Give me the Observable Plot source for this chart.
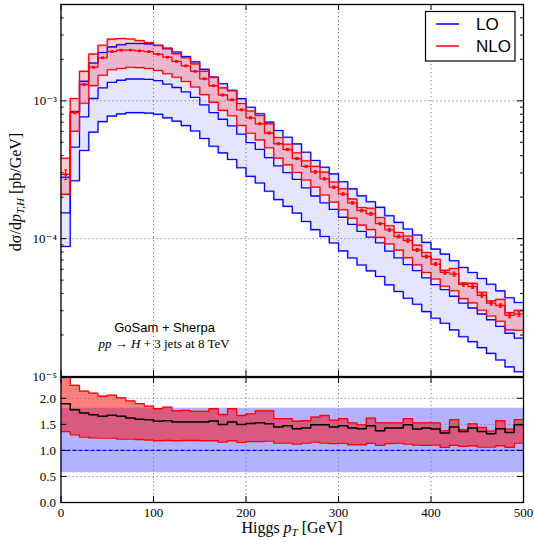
<!DOCTYPE html>
<html><head><meta charset="utf-8">
<script src="https://cdn.jsdelivr.net/npm/d3@7"></script>
<script src="https://cdn.jsdelivr.net/npm/@observablehq/plot@0.6"></script>
<style>
body{margin:0;background:#fff;}
#wrap{position:relative;width:534px;height:544px;background:#fff;}
#wrap svg{position:absolute;left:0;overflow:visible;}
</style></head><body><div id="wrap"></div>
<script>
// ---- data ----
const binLow = [0,10,20,30,40,50,60,70,80,90,100,110,120,130,140,150,160,170,180,190,
  200,210,220,230,240,250,260,270,280,290,300,310,320,330,340,350,360,370,380,390,
  400,410,420,430,440,450,460,470,480,490];
const binWidth = 10;
// LO central value, pb/GeV
const lo = [1.54e-4,4.62e-4,7.65e-4,1.04e-3,1.24e-3,1.36e-3,1.41e-3,1.44e-3,1.44e-3,1.43e-3,
  1.40e-3,1.32e-3,1.25e-3,1.16e-3,1.06e-3,9.35e-4,8.22e-4,7.35e-4,6.58e-4,5.73e-4,
  4.97e-4,4.45e-4,3.87e-4,3.37e-4,3.01e-4,2.69e-4,2.34e-4,2.04e-4,1.82e-4,1.63e-4,
  1.43e-4,1.27e-4,1.13e-4,1.025e-4,9.32e-5,8.11e-5,7.25e-5,6.49e-5,5.87e-5,5.19e-5,
  4.64e-5,4.27e-5,3.82e-5,3.41e-5,3.14e-5,2.84e-5,2.58e-5,2.31e-5,2.06e-5,1.90e-5];
// LO scale-variation band relative to LO central
const loScale = [0.57, 1.81];
// NLO / LO ratio (central, band low, band high)
const ratio = [1.898,1.782,1.718,1.686,1.654,1.673,1.654,1.622,1.60,1.59,
  1.558,1.571,1.545,1.545,1.545,1.545,1.565,1.50,1.545,1.50,
  1.515,1.53,1.51,1.449,1.474,1.417,1.43,1.494,1.494,1.449,
  1.474,1.43,1.417,1.474,1.378,1.43,1.43,1.494,1.41,1.43,
  1.41,1.333,1.449,1.365,1.43,1.365,1.32,1.417,1.346,1.494];
const ratioLow = [1.36,1.30,1.256,1.24,1.237,1.237,1.218,1.218,1.21,1.20,
  1.186,1.19,1.186,1.19,1.19,1.186,1.186,1.16,1.186,1.155,
  1.17,1.17,1.18,1.14,1.14,1.122,1.14,1.16,1.14,1.13,
  1.135,1.109,1.109,1.135,1.096,1.13,1.14,1.122,1.10,1.096,
  1.10,1.058,1.096,1.077,1.09,1.064,1.064,1.09,1.058,1.141];
const ratioHigh = [2.49,2.25,2.14,2.10,2.04,2.06,2.01,1.95,1.90,1.85,
  1.80,1.83,1.76,1.77,1.75,1.75,1.80,1.69,1.80,1.67,
  1.70,1.76,1.76,1.61,1.61,1.56,1.57,1.64,1.67,1.58,
  1.61,1.53,1.49,1.62,1.53,1.53,1.53,1.61,1.53,1.53,
  1.53,1.38,1.59,1.40,1.51,1.44,1.37,1.57,1.41,1.59];
// NLO statistical error, relative
const nloErr = [0.08,0.02,0.012,0.01,0.008,0.008,0.008,0.008,0.008,0.008,
  0.01,0.01,0.01,0.01,0.01,0.012,0.012,0.012,0.012,0.012,
  0.015,0.015,0.015,0.015,0.018,0.018,0.015,0.02,0.018,0.02,
  0.02,0.02,0.022,0.022,0.02,0.025,0.022,0.03,0.025,0.025,
  0.025,0.03,0.035,0.028,0.03,0.03,0.032,0.03,0.04,0.04];
const xTicks = [0,100,200,300,400,500];
const xGrid = [100,200,300,400];
const yMajor = [1e-5,1e-4,1e-3];
const yMinor = [2e-5,3e-5,4e-5,5e-5,6e-5,7e-5,8e-5,9e-5,2e-4,3e-4,4e-4,5e-4,6e-4,7e-4,8e-4,9e-4,2e-3,3e-3,4e-3];
const rTicks = [0,0.5,1.0,1.5,2.0];
const rGrid = [0.5,1.0,1.5,2.0];
const seriesNames = ["LO","NLO"];
const seriesColors = ["#0000ff","#ff0000"];

// ---- derived tables ----
const bins = binLow.map((x0,i)=>({
  x0, x1:x0+binWidth, xc:x0+binWidth/2,
  lo:lo[i], loLow:lo[i]*loScale[0], loHigh:lo[i]*loScale[1],
  nlo:lo[i]*ratio[i], nloLow:lo[i]*ratioLow[i], nloHigh:lo[i]*ratioHigh[i],
  err:nloErr[i], r:ratio[i], rl:ratioLow[i], rh:ratioHigh[i],
  bl:loScale[0], bh:loScale[1]
}));
const steps = bins.flatMap(b=>[{...b,x:b.x0},{...b,x:b.x1}]);

const W=534, ML=60.5, MR=11;
const plotW = W-ML-MR;
const mainH=377, mainTop=4, mainBot=1, mainPH = mainH-mainTop-mainBot;
const ratH=168, ratTop=1, ratBot=42, ratPH = ratH-ratTop-ratBot;
const gridStyle = {stroke:"#7a7a7a", strokeDasharray:"1.2,2.8", strokeWidth:1};
const supMap = {"-":"\u207B","0":"\u2070","1":"\u00B9","2":"\u00B2","3":"\u00B3","4":"\u2074","5":"\u2075","6":"\u2076","7":"\u2077","8":"\u2078","9":"\u2079"};
const fmtPow = d => "10" + String(Math.round(Math.log10(d))).split("").map(c=>supMap[c]).join("");
const serif = "'Liberation Serif', 'DejaVu Serif', serif";
const sans = "'Liberation Sans', Arial, sans-serif";

function edge(key, color){
  return [
    Plot.line(steps,{x:"x",y:key,stroke:color,strokeWidth:2,strokeOpacity:0.3}),
    Plot.line(steps,{x:"x",y:key,stroke:color,strokeWidth:1.1})
  ];
}

const main = Plot.plot({
  width:W, height:mainH, marginTop:mainTop, marginBottom:mainBot, marginLeft:ML, marginRight:MR,
  style:{background:"transparent", fontFamily:serif, fontSize:"13px", color:"#000", overflow:"visible"},
  x:{domain:[0,500], axis:null},
  y:{type:"log", domain:[1e-5,5e-3], axis:null},
  marks:[
    Plot.areaY(steps,{x:"x",y1:"loLow",y2:"loHigh",fill:"#0000ff",fillOpacity:0.1}),
    Plot.areaY(steps,{x:"x",y1:"nloLow",y2:"nloHigh",fill:"#ff0000",fillOpacity:0.2}),
    Plot.ruleX(xGrid,{...gridStyle}),
    Plot.ruleY([1e-4,1e-3],{...gridStyle}),
    ...edge("loHigh","#0000ff"), ...edge("loLow","#0000ff"),
    Plot.line(steps,{x:"x",y:"lo",stroke:"#0000ff",strokeWidth:1.3}),
    ...edge("nloHigh","#ff0000"), ...edge("nloLow","#ff0000"),
    Plot.line(steps,{x:"x",y:"nlo",stroke:"#ff0000",strokeWidth:1.3}),
    Plot.link(bins,{x1:"xc",x2:"xc",y1:d=>d.nlo*(1-d.err),y2:d=>d.nlo*(1+d.err),stroke:"#ff0000",strokeWidth:1.2}),
    Plot.link(bins,{x1:d=>d.xc-1.6,x2:d=>d.xc+1.6,y1:d=>d.nlo*(1+d.err),y2:d=>d.nlo*(1+d.err),stroke:"#ff0000",strokeWidth:1}),
    Plot.link(bins,{x1:d=>d.xc-1.6,x2:d=>d.xc+1.6,y1:d=>d.nlo*(1-d.err),y2:d=>d.nlo*(1-d.err),stroke:"#ff0000",strokeWidth:1}),
    Plot.dot(bins,{x:"xc",y:"nlo",symbol:"square",r:1.5,fill:"#ff0000"}),
    Plot.frame({stroke:"#000",strokeWidth:1.3}),
    Plot.ruleX(xTicks,{insetTop:mainPH-6,stroke:"#000"}),
    Plot.ruleX(xTicks,{insetBottom:mainPH-6,stroke:"#000"}),
    Plot.ruleY(yMajor,{insetRight:plotW-6,stroke:"#000"}),
    Plot.ruleY(yMajor,{insetLeft:plotW-6,stroke:"#000"}),
    Plot.ruleY(yMinor,{insetRight:plotW-3,stroke:"#000"}),
    Plot.ruleY(yMinor,{insetLeft:plotW-3,stroke:"#000"}),
    Plot.axisY({ticks:yMajor, tickSize:0, tickPadding:4, tickFormat:fmtPow, label:null, fontSize:13}),
    Plot.text(["GoSam + Sherpa"],{x:()=>112,y:()=>2.26e-5,text:d=>d,fontFamily:sans,fontSize:13,fill:"#000"})
  ]
});
main.style.top = "0px";

const ratioPlot = Plot.plot({
  width:W, height:ratH, marginTop:ratTop, marginBottom:ratBot, marginLeft:ML, marginRight:MR,
  style:{background:"transparent", fontFamily:serif, fontSize:"13px", color:"#000", overflow:"visible"},
  x:{domain:[0,500], axis:null},
  y:{domain:[0,2.4], axis:null},
  marks:[
    Plot.areaY(steps,{x:"x",y1:"bl",y2:"bh",fill:"#0000ff",fillOpacity:0.3}),
    Plot.areaY(steps,{x:"x",y1:"rl",y2:"rh",fill:"#ff0000",fillOpacity:0.5,clip:true}),
    Plot.ruleX(xGrid,{...gridStyle}),
    Plot.ruleY(rGrid,{...gridStyle}),
    Plot.line(steps,{x:"x",y:"rh",stroke:"#ff0000",strokeWidth:1.3,clip:true}),
    Plot.line(steps,{x:"x",y:"rl",stroke:"#ff0000",strokeWidth:1.3}),
    Plot.ruleY([1],{stroke:"#0000ff",strokeWidth:1.3,strokeDasharray:"4,2"}),
    Plot.line(steps,{x:"x",y:"r",stroke:"#000",strokeWidth:1.5}),
    Plot.frame({stroke:"#000",strokeWidth:1.3}),
    Plot.ruleX(xTicks,{insetTop:ratPH-6,stroke:"#000"}),
    Plot.ruleX(xTicks,{insetBottom:ratPH-6,stroke:"#000"}),
    Plot.ruleY(rTicks,{insetRight:plotW-6,stroke:"#000"}),
    Plot.ruleY(rTicks,{insetLeft:plotW-6,stroke:"#000"}),
    Plot.axisY({ticks:rTicks, tickSize:0, tickPadding:5, tickFormat:d=>d.toFixed(1), label:null, fontSize:13}),
    Plot.axisX({ticks:xTicks, tickSize:0, tickPadding:5, tickFormat:d=>String(d), label:null, fontSize:13})
  ]
});
ratioPlot.style.top = "376px";

const wrap = document.getElementById("wrap");
wrap.appendChild(main);
wrap.appendChild(ratioPlot);

// ---- text decorations ----
const ms = d3.select(main);
const sx = main.scale("x"), sy = main.scale("y");
// process line
const t2 = ms.append("text").attr("x", sx.apply(112)).attr("y", sy.apply(1.68e-5))
  .attr("text-anchor","middle").attr("dominant-baseline","middle")
  .style("font-family",serif).style("font-size","13px").attr("fill","#000");
t2.append("tspan").style("font-style","italic").text("pp");
t2.append("tspan").text(" \u2192 ");
t2.append("tspan").style("font-style","italic").text("H");
t2.append("tspan").text(" + 3 jets at 8 TeV");

// y axis title
const yt = ms.append("text").attr("transform","translate(21,192) rotate(-90)")
  .attr("text-anchor","middle").style("font-family",serif).style("font-size","16px").attr("fill","#000");
yt.append("tspan").text("d\u03C3/d");
yt.append("tspan").style("font-style","italic").text("p");
yt.append("tspan").style("font-style","italic").style("font-size","11px").attr("dy","3").text("T,H");
yt.append("tspan").attr("dy","-3").text(" [pb/GeV]");

// x axis title
const xt = d3.select(ratioPlot).append("text").attr("x",292).attr("y",157)
  .attr("text-anchor","middle").style("font-family",serif).style("font-size","16px").attr("fill","#000");
xt.append("tspan").text("Higgs ");
xt.append("tspan").style("font-style","italic").text("p");
xt.append("tspan").style("font-style","italic").style("font-size","11px").attr("dy","3").text("T");
xt.append("tspan").attr("dy","-3").text(" [GeV]");

// legend
const lg = ms.append("g");
lg.append("rect").attr("x",425.5).attr("y",11.5).attr("width",89.5).attr("height",49.5)
  .attr("fill","#fff").attr("stroke","#000").attr("stroke-width",1.2);
seriesNames.forEach((name,i)=>{
  const yy = 24 + i*22;
  lg.append("line").attr("x1",436).attr("x2",459).attr("y1",yy).attr("y2",yy)
    .attr("stroke",seriesColors[i]).attr("stroke-width",1.5);
  lg.append("text").attr("x",476).attr("y",yy+6).attr("text-anchor","start")
    .style("font-family",sans).style("font-size","17px").attr("fill","#000").text(name);
});
</script>
</body></html>
